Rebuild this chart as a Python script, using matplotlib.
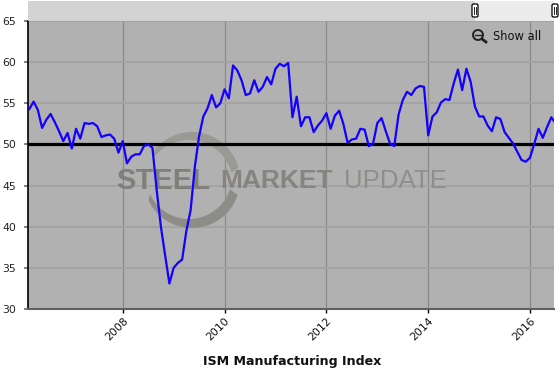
"""ISM Manufacturing Index, Steel Market Update style chart."""

import numpy as np
import matplotlib
matplotlib.use("Agg")
import matplotlib.pyplot as plt
from matplotlib.patches import Circle, Rectangle, FancyBboxPatch

W, H = 560, 376

# monthly values, first point March 2006
START_YEAR = 2006 + 2 / 12
ism = [
    54.3, 55.2, 54.2, 52.0, 53.0, 53.7, 52.7, 51.6, 50.4, 51.4,
    49.5, 51.9, 50.7, 52.6, 52.5, 52.6, 52.2, 50.9, 51.1, 51.2, 50.7, 49.0,
    50.4, 47.7, 48.5, 48.8, 48.8, 49.8, 50.0, 49.6, 44.5, 40.0, 36.5, 33.1,
    35.0, 35.6, 36.0, 39.5, 42.0, 47.3, 51.0, 53.4, 54.4, 56.0, 54.5, 55.0,
    56.7, 55.6, 59.6, 59.0, 57.8, 56.0, 56.2, 57.8, 56.4, 57.0, 58.2, 57.3,
    59.2, 59.8, 59.5, 59.9, 53.3, 55.8, 52.2, 53.3, 53.3, 51.5, 52.3, 52.9,
    53.8, 51.9, 53.5, 54.1, 52.5, 50.2, 50.6, 50.7, 51.9, 51.8, 49.8, 50.1,
    52.6, 53.2, 51.6, 50.1, 49.8, 53.6, 55.4, 56.4, 56.0, 56.8, 57.1, 57.0,
    51.1, 53.4, 53.9, 55.1, 55.5, 55.4, 57.4, 59.1, 56.6, 59.2, 57.6, 54.6,
    53.4, 53.4, 52.3, 51.6, 53.3, 53.1, 51.5, 50.8, 50.1, 49.1, 48.1, 47.9,
    48.4, 50.1, 51.9, 50.8, 52.1, 53.3, 52.6,
]
year_ticks = [2008, 2010, 2012, 2014, 2016]
value_ticks = [30, 35, 40, 45, 50, 55, 60, 65]
REFERENCE = 50

years = START_YEAR + np.arange(len(ism)) / 12

plt.rcParams["font.family"] = "DejaVu Sans"

fig = plt.figure(figsize=(W / 100, H / 100), dpi=100, facecolor="white")
LEFT, RIGHT, TOP, BOTTOM = 27.5, 554, 21, 309
ax = fig.add_axes([LEFT / W, 1 - BOTTOM / H, (RIGHT - LEFT) / W, (BOTTOM - TOP) / H])
ax.set_facecolor("#b1b1b1")
ax.set_xlim(2006.13, 2016.47)
ax.set_ylim(30, 65)

ax.grid(True, axis="y", color="#a3a3a3", lw=1.4)
ax.grid(True, axis="x", color="#8a8a8a", lw=0.9)
ax.set_axisbelow(True)
ax.set_xticks(year_ticks)
ax.set_yticks(value_ticks)
ax.set_xticklabels(year_ticks, rotation=45, fontsize=7.8, color="#111111", ha="right",
                   rotation_mode="anchor", va="top")
ax.tick_params(axis="x", length=3.2, width=1, color="black", pad=1.8)
ax.tick_params(axis="y", length=3.2, width=1.4, color="#808080", labelsize=7.8, pad=5,
               labelcolor="#222222")

ax.spines["top"].set_visible(False)
ax.spines["right"].set_visible(False)
ax.spines["left"].set_linewidth(1.2)
ax.spines["bottom"].set_color("#606060")
ax.spines["bottom"].set_linewidth(1.5)


def crescent(axis, cx, cy, r, icx, icy, ir, a1, a2, color):
    # ring piece between an outer circle and an off-centre inner one, pixel coordinates
    t = np.radians(np.linspace(a1, a2, 80))
    xo, yo = cx + r * np.cos(t), cy - r * np.sin(t)
    xi, yi = icx + ir * np.cos(t[::-1]), icy - ir * np.sin(t[::-1])
    axis.fill(np.r_[xo, xi], np.r_[yo, yi], color=color, lw=0)


# watermark, drawn in pixels
wm_ax = fig.add_axes(ax.get_position(), frameon=False, zorder=1.5)
wm_ax.set_xlim(LEFT, RIGHT)
wm_ax.set_ylim(BOTTOM, TOP)
wm_ax.set_axis_off()
crescent(wm_ax, 192, 180, 48, 189, 184, 44, 15, 145, "#9a9994")
crescent(wm_ax, 192, 180, 48, 189, 176, 43, 205, 342, "#8d8c87")
wm_ax.text(116, 180.5, "STEEL", fontsize=21, fontweight="bold", color="#807f7a",
           ha="left", va="center", family="Liberation Sans")
wm_ax.text(220, 180.5, "MARKET", fontsize=19, fontweight="bold", color="#858480",
           ha="left", va="center", family="Liberation Sans")
wm_ax.text(344, 180.5, "UPDATE", fontsize=18.6, color="#8f8e8a",
           ha="left", va="center", family="Liberation Sans")

line_ax = fig.add_axes(ax.get_position(), frameon=False, zorder=2)
line_ax.set_xlim(ax.get_xlim())
line_ax.set_ylim(ax.get_ylim())
line_ax.set_axis_off()
line_ax.axhline(REFERENCE, color="black", lw=2.3)
line_ax.plot(years, ism, color="#1400ff", lw=1.6, solid_joinstyle="round")

# top scrollbar band
band = fig.add_axes([LEFT / W, 1 - TOP / H, (RIGHT - LEFT) / W, (TOP - 1) / H], frameon=False)
band.set_xlim(LEFT, RIGHT)
band.set_ylim(TOP, 1)
band.set_axis_off()
band.add_patch(Rectangle((LEFT, 1), 475 - LEFT, 20, color="#d3d3d3", lw=0))
band.add_patch(Rectangle((475, 1), RIGHT - 475, 20, color="#ececec", lw=0))
for hx in (475, 555):
    band.add_patch(FancyBboxPatch((hx - 3, 4), 6, 13, boxstyle="round,pad=0,rounding_size=1.5",
                                  fc="white", ec="black", lw=0.9, clip_on=False))
    band.plot([hx - 1, hx - 1], [7, 14], color="black", lw=0.6, clip_on=False)
    band.plot([hx + 1, hx + 1], [7, 14], color="black", lw=0.6, clip_on=False)

# show all control
wm_ax.add_patch(Circle((478, 35), 5, fc="none", ec="#222222", lw=1.4))
wm_ax.plot([475, 481], [35, 35], color="#222222", lw=1)
wm_ax.plot([482, 486], [39, 42], color="#222222", lw=2)
wm_ax.text(493, 36, "Show all", fontsize=8.3, color="#111111", ha="left", va="center")

fig.text(292 / W, 1 - 362 / H, "ISM Manufacturing Index", fontsize=9.1, fontweight="bold",
         color="#111111", ha="center", va="center")

fig.savefig("out.png", dpi=100, facecolor="white")
